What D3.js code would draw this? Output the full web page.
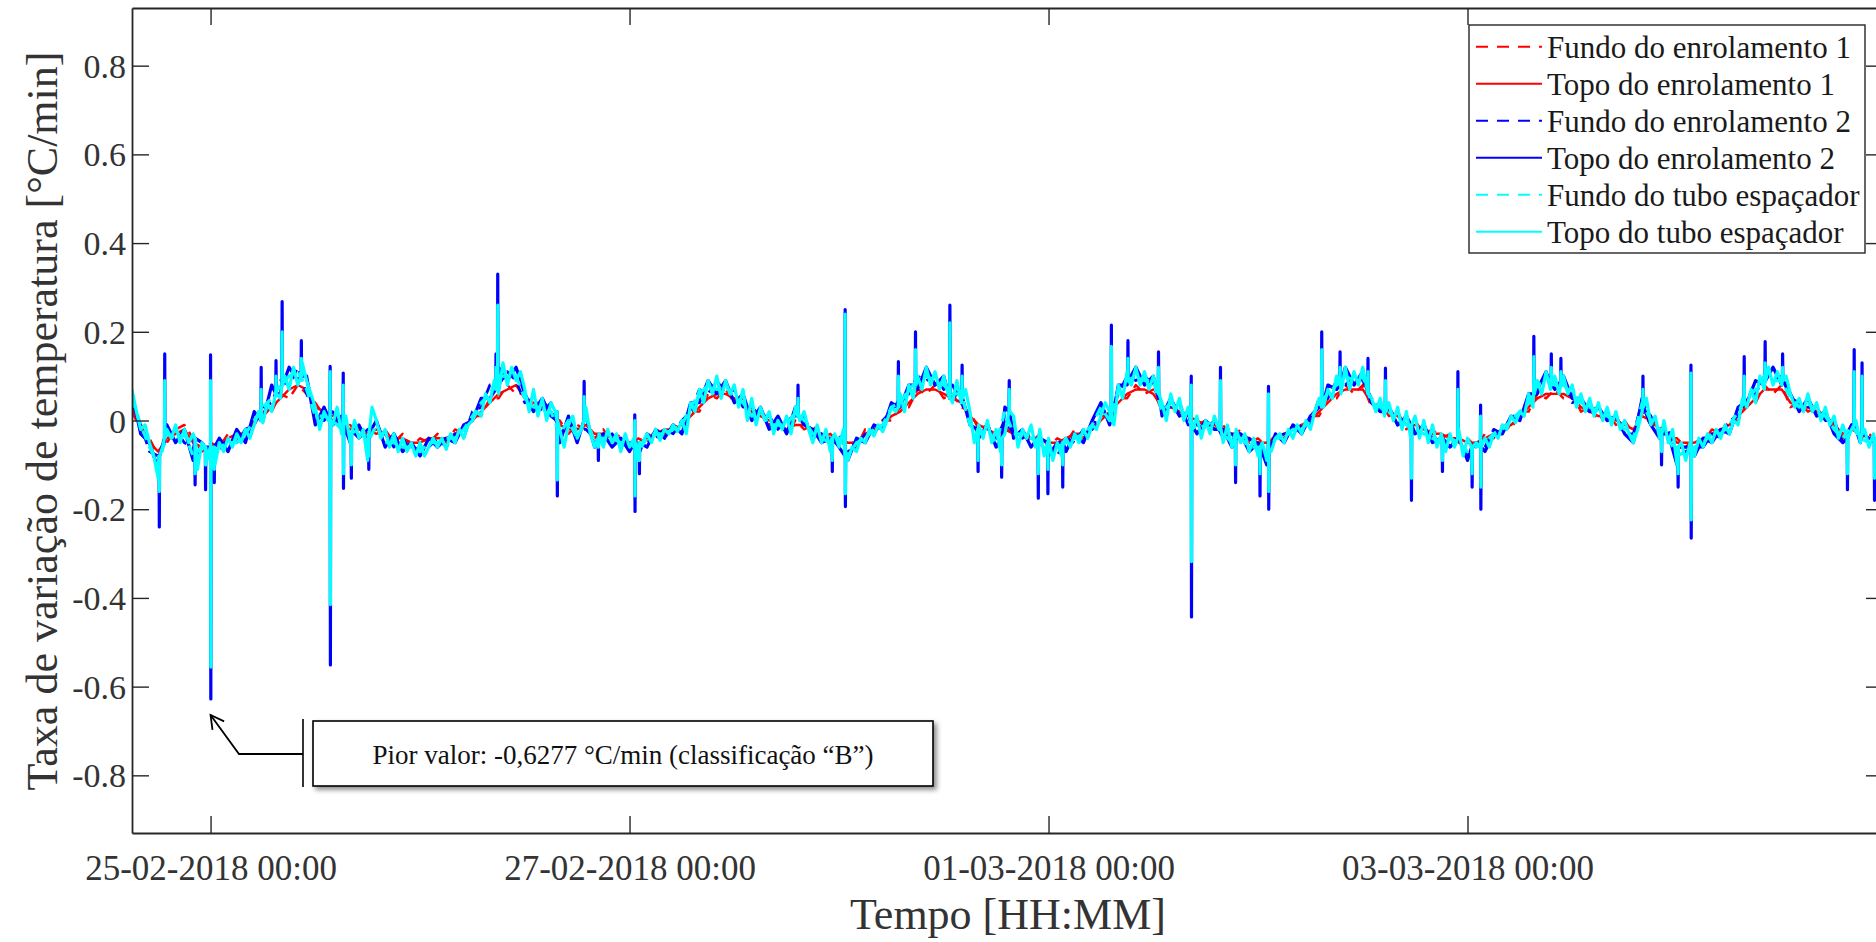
<!DOCTYPE html>
<html><head><meta charset="utf-8">
<script src="https://cdn.jsdelivr.net/npm/d3@7"></script>
<style>
html,body{margin:0;padding:0;background:#fff;overflow:hidden}
svg{display:block}
text{font-family:"Liberation Serif","Times New Roman",serif}
</style></head><body>
<svg id="chart" width="1876" height="942"></svg>
<script>
// ---------------- DATA ----------------
const seriesStart = "2018-02-24T15:00:00Z";   // first sample
const domainEnd   = "2018-03-04T23:36:00Z";   // right edge of the axes

const seriesNames = ["Fundo do enrolamento 1","Topo do enrolamento 1","Fundo do enrolamento 2",
                     "Topo do enrolamento 2","Fundo do tubo espaçador","Topo do tubo espaçador"];

// sampling step of each array (hours)
const stepCyanTopo = 0.5, stepOthers = 1;

// Topo do tubo espaçador (every 30 min)
const cyanTopo = [
0.07,0.02,-0.02,-0.01,-0.05,-0.08,-0.13,-0.06,-0.02,-0.04,
-0.01,-0.05,-0.02,-0.05,-0.03,-0.11,-0.05,-0.09,-0.06,-0.1,
-0.05,-0.07,-0.04,-0.06,-0.03,-0.05,-0.02,-0.04,-0.01,0.02,
-0.005,0.04,0.02,0.09,0.05,0.1,0.07,0.12,0.08,0.13,
0.09,0.06,0.03,-0.02,0.02,0.0,-0.01,0.03,-0.03,0.01,
-0.05,0.0,-0.04,-0.02,-0.09,0.03,0.0,-0.04,-0.02,-0.06,
-0.03,-0.07,-0.04,-0.07,-0.05,-0.08,-0.05,-0.08,-0.06,-0.04,
-0.06,-0.04,-0.065,-0.03,-0.05,-0.02,-0.04,-0.01,0.0,0.02,
0.01,0.06,0.04,0.09,0.06,0.13,0.08,0.12,0.09,0.11,
0.07,0.02,0.07,0.01,0.05,0.0,0.04,0.02,-0.02,-0.06,
-0.01,0.01,-0.04,-0.02,0.03,-0.03,-0.06,-0.03,-0.06,-0.02,
-0.05,-0.03,-0.07,-0.03,-0.06,-0.04,-0.09,-0.05,-0.03,-0.05,
-0.02,-0.045,-0.02,-0.03,-0.01,-0.025,0.0,-0.03,0.04,0.02,
0.07,0.04,0.09,0.06,0.1,0.05,0.09,0.06,0.08,0.03,
0.07,0.0,0.05,-0.01,0.03,0.0,0.02,-0.03,0.0,-0.02,
0.01,-0.03,0.03,0.0,0.02,-0.02,-0.05,-0.01,-0.05,-0.02,
-0.07,-0.03,-0.06,-0.02,-0.09,-0.06,-0.07,-0.04,-0.05,-0.02,
-0.035,-0.01,-0.025,0.0,0.03,0.02,0.06,0.02,0.08,0.05,
0.1,0.07,0.12,0.08,0.11,0.07,0.1,0.06,0.04,0.09,
0.04,0.07,0.02,-0.05,-0.01,-0.04,0.0,-0.05,-0.02,-0.07,
-0.03,0.05,0.01,-0.06,-0.02,-0.04,-0.01,-0.06,-0.02,-0.08,
-0.04,-0.09,-0.05,-0.08,-0.04,-0.06,-0.03,-0.05,-0.02,-0.04,
-0.01,-0.02,0.01,0.04,0.02,-0.01,0.08,0.05,0.11,0.08,
0.12,0.08,0.11,0.07,0.1,0.07,0.04,0.0,0.06,0.02,
0.05,0.0,0.03,-0.02,0.01,-0.04,0.0,-0.03,0.01,-0.02,
-0.05,-0.01,-0.06,-0.02,-0.05,-0.03,-0.07,-0.04,-0.08,-0.05,
-0.09,-0.07,-0.04,-0.03,-0.05,-0.02,-0.04,-0.01,-0.03,0.0,
-0.02,0.02,0.05,0.03,0.07,0.05,0.1,0.06,0.12,0.07,
0.11,0.08,0.12,0.07,0.05,0.02,0.05,0.01,0.04,0.0,
0.03,-0.02,0.02,-0.04,0.01,-0.04,0.0,-0.05,-0.01,-0.06,
-0.03,-0.07,-0.03,-0.06,-0.02,-0.08,-0.04,-0.1,-0.05,-0.06,
-0.04,-0.06,-0.03,-0.04,-0.01,-0.02,0.01,-0.005,0.02,0.01,
0.06,0.03,0.09,0.06,0.11,0.07,0.1,0.06,0.1,0.06,
0.08,0.03,0.06,0.02,0.05,0.01,0.04,0.0,0.03,-0.01,
0.02,-0.02,0.0,-0.03,-0.05,-0.02,0.02,0.05,-0.01,0.01,
-0.04,0.0,-0.05,-0.02,-0.1,-0.05,-0.09,-0.05,-0.08,-0.04,
-0.06,-0.03,-0.05,-0.02,-0.04,-0.01,-0.03,0.0,-0.01,0.05,
0.03,0.07,0.04,0.1,0.07,0.12,0.08,0.11,0.08,0.1,
0.06,0.03,0.05,0.02,0.06,0.02,0.04,0.0,0.03,-0.01,
0.01,-0.04,-0.01,-0.07,-0.02,0.0,-0.05,-0.02,-0.06,-0.03,
-0.05];

// Fundo do tubo espaçador (hourly)
const cyanFundo = [
0.05,-0.01,-0.06,-0.1,-0.03,-0.04,-0.03,-0.08,-0.06,-0.09,
-0.06,-0.05,-0.05,-0.03,0.0,0.03,0.05,0.08,0.1,0.11,
0.07,0.01,0.01,0.0,-0.02,-0.03,-0.02,-0.05,-0.01,-0.05,
-0.05,-0.06,-0.06,-0.07,-0.05,-0.05,-0.04,-0.04,-0.02,0.01,
0.04,0.06,0.1,0.1,0.1,0.05,0.03,0.03,0.02,-0.03,
0.0,-0.04,0.01,-0.05,-0.04,-0.04,-0.05,-0.05,-0.07,-0.04,
-0.03,-0.03,-0.02,-0.01,0.03,0.06,0.08,0.07,0.08,0.05,
0.04,0.01,0.02,-0.01,-0.01,-0.01,0.02,0.0,-0.03,-0.04,
-0.05,-0.04,-0.08,-0.05,-0.04,-0.02,-0.01,0.03,0.04,0.07,
0.09,0.1,0.09,0.08,0.06,0.06,-0.01,-0.03,-0.02,-0.05,
0.02,-0.03,-0.03,-0.04,-0.05,-0.07,-0.06,-0.05,-0.04,-0.03,
-0.01,0.03,0.0,0.07,0.09,0.1,0.09,0.09,0.02,0.04,
0.03,0.0,-0.02,-0.01,0.0,-0.03,-0.05,-0.04,-0.06,-0.06,
-0.08,-0.04,-0.04,-0.02,-0.02,0.0,0.04,0.06,0.08,0.1,
0.09,0.1,0.04,0.03,0.02,0.0,-0.01,-0.02,-0.03,-0.04,
-0.05,-0.04,-0.05,-0.07,-0.06,-0.05,-0.03,-0.02,0.0,0.02,
0.04,0.08,0.09,0.08,0.08,0.06,0.04,0.03,0.02,0.01,
0.0,-0.02,-0.04,0.04,0.0,-0.02,-0.04,-0.08,-0.07,-0.06,
-0.05,-0.03,-0.03,-0.01,0.02,0.05,0.07,0.1,0.09,0.09,
0.05,0.03,0.04,0.02,0.01,-0.02,-0.04,-0.01,-0.04,-0.05,
-0.05];

// Topo do enrolamento 2 (hourly)
const blueTopo = [
0.06,-0.03,-0.05,-0.11,-0.01,-0.05,-0.02,-0.09,-0.05,-0.1,
-0.04,-0.07,-0.02,-0.05,0.02,0.0,0.08,0.06,0.12,0.09,
0.1,-0.01,0.03,-0.01,0.01,-0.05,-0.01,-0.05,0.0,-0.06,
-0.03,-0.07,-0.05,-0.08,-0.04,-0.06,-0.04,-0.05,-0.01,0.0,
0.05,0.05,0.12,0.09,0.12,0.06,0.02,0.05,0.01,-0.05,
0.01,-0.05,0.01,-0.06,-0.03,-0.06,-0.04,-0.07,-0.06,-0.06,
-0.02,-0.04,-0.01,-0.03,0.04,0.04,0.09,0.06,0.09,0.04,
0.06,0.0,0.03,-0.02,0.01,-0.03,0.03,-0.01,-0.02,-0.05,
-0.04,-0.06,-0.09,-0.04,-0.05,-0.01,-0.02,0.04,0.03,0.08,
0.07,0.12,0.08,0.1,0.05,0.07,-0.01,-0.04,-0.01,-0.06,
0.03,-0.04,-0.02,-0.06,-0.04,-0.08,-0.05,-0.07,-0.03,-0.05,
0.0,0.04,-0.01,0.08,0.08,0.12,0.08,0.1,0.01,0.05,
0.01,0.02,-0.03,0.0,-0.02,-0.02,-0.06,-0.03,-0.07,-0.05,
-0.1,-0.03,-0.05,-0.01,-0.03,0.01,0.03,0.08,0.07,0.12,
0.08,0.11,0.04,0.02,0.03,-0.01,0.01,-0.03,-0.01,-0.05,
-0.04,-0.06,-0.04,-0.09,-0.05,-0.07,-0.03,-0.03,0.01,0.0,
0.06,0.07,0.11,0.07,0.1,0.05,0.05,0.02,0.03,0.0,
0.01,-0.03,-0.05,0.05,-0.01,-0.04,-0.03,-0.1,-0.06,-0.08,
-0.04,-0.05,-0.02,-0.03,0.03,0.04,0.09,0.08,0.12,0.08,
0.06,0.02,0.05,0.01,0.02,-0.03,-0.05,-0.01,-0.05,-0.04,
-0.06];

// Fundo do enrolamento 2 (hourly)
const blueFundo = [
0.04,-0.01,-0.07,-0.08,-0.04,-0.02,-0.05,-0.06,-0.08,-0.07,
-0.07,-0.04,-0.05,-0.02,-0.01,0.03,0.04,0.09,0.08,0.12,
0.06,0.02,0.0,0.02,-0.02,-0.02,-0.04,-0.02,-0.03,-0.03,
-0.06,-0.04,-0.07,-0.06,-0.06,-0.04,-0.06,-0.03,-0.04,0.02,
0.03,0.08,0.08,0.11,0.09,0.04,0.05,0.02,0.04,-0.03,
-0.01,-0.02,-0.02,-0.04,-0.05,-0.03,-0.06,-0.04,-0.08,-0.03,
-0.04,-0.02,-0.03,0.0,0.02,0.07,0.06,0.09,0.06,0.07,
0.03,0.03,0.01,0.01,-0.02,0.0,0.01,0.01,-0.04,-0.03,
-0.06,-0.03,-0.07,-0.06,-0.03,-0.03,0.0,0.02,0.05,0.06,
0.1,0.09,0.1,0.07,0.08,0.04,0.0,-0.03,-0.03,-0.04,
0.0,-0.03,-0.04,-0.03,-0.06,-0.06,-0.08,-0.04,-0.05,-0.02,
-0.02,0.03,0.01,0.06,0.1,0.09,0.1,0.08,0.03,0.03,
0.04,-0.01,-0.01,-0.02,0.0,-0.04,-0.03,-0.05,-0.04,-0.07,
-0.07,-0.04,-0.03,-0.03,-0.01,-0.01,0.05,0.05,0.09,0.08,
0.1,0.09,0.05,0.02,0.03,-0.01,0.0,-0.03,-0.01,-0.04,
-0.04,-0.06,-0.04,-0.08,-0.05,-0.06,-0.02,-0.03,0.01,0.01,
0.05,0.06,0.1,0.08,0.09,0.04,0.05,0.02,0.03,0.0,
0.01,-0.03,-0.03,0.04,0.01,-0.03,-0.02,-0.08,-0.07,-0.06,
-0.06,-0.03,-0.04,0.0,0.01,0.05,0.06,0.1,0.09,0.1,
0.05,0.04,0.03,0.03,0.0,0.0,-0.05,-0.01,-0.04,-0.05,
-0.04];

// Topo do enrolamento 1 (hourly)
const redTopo = [
0.03,-0.01,-0.05,-0.07,-0.04,-0.03,-0.02,-0.05,-0.06,-0.06,
-0.05,-0.04,-0.03,-0.03,0.0,0.01,0.03,0.05,0.07,0.08,
0.07,0.03,0.02,0.0,-0.01,-0.02,-0.02,-0.03,-0.02,-0.03,
-0.04,-0.04,-0.05,-0.05,-0.04,-0.04,-0.04,-0.03,-0.02,0.0,
0.02,0.04,0.06,0.07,0.08,0.05,0.04,0.03,0.02,-0.01,
-0.02,-0.02,-0.01,-0.03,-0.03,-0.04,-0.04,-0.05,-0.05,-0.04,
-0.03,-0.02,-0.02,-0.01,0.01,0.03,0.05,0.06,0.06,0.05,
0.04,0.02,0.01,0.0,-0.01,-0.02,-0.01,-0.01,-0.02,-0.03,
-0.04,-0.04,-0.05,-0.05,-0.03,-0.02,-0.01,0.01,0.02,0.04,
0.06,0.07,0.07,0.06,0.05,0.04,0.01,-0.01,-0.02,-0.03,
-0.02,-0.03,-0.03,-0.04,-0.04,-0.05,-0.05,-0.04,-0.03,-0.03,
-0.02,0.0,0.02,0.04,0.06,0.07,0.07,0.06,0.03,0.03,
0.02,0.01,0.0,-0.01,-0.01,-0.02,-0.03,-0.03,-0.04,-0.05,
-0.05,-0.04,-0.03,-0.02,-0.01,0.0,0.02,0.04,0.06,0.07,
0.07,0.07,0.04,0.03,0.02,0.01,-0.01,-0.01,-0.02,-0.03,
-0.03,-0.04,-0.04,-0.05,-0.05,-0.04,-0.03,-0.02,-0.01,0.01,
0.03,0.05,0.06,0.06,0.06,0.05,0.03,0.02,0.01,0.01,
0.0,-0.01,-0.02,0.01,0.0,-0.02,-0.03,-0.05,-0.05,-0.05,
-0.04,-0.03,-0.02,-0.01,0.01,0.03,0.05,0.07,0.07,0.07,
0.04,0.03,0.03,0.02,0.01,-0.01,-0.03,-0.02,-0.03,-0.04,
-0.04];

// Fundo do enrolamento 1 (hourly)
const redFundo = [
0.02,-0.02,-0.04,-0.08,-0.05,-0.02,-0.01,-0.04,-0.07,-0.05,
-0.06,-0.03,-0.04,-0.02,-0.01,0.02,0.02,0.06,0.05,0.08,
0.06,0.04,0.01,0.01,-0.02,-0.01,-0.04,-0.02,-0.03,-0.02,
-0.05,-0.03,-0.06,-0.04,-0.05,-0.03,-0.05,-0.02,-0.03,0.01,
0.01,0.05,0.05,0.08,0.06,0.06,0.03,0.04,0.01,0.0,
-0.03,-0.01,-0.02,-0.04,-0.02,-0.05,-0.03,-0.06,-0.04,-0.05,
-0.02,-0.03,-0.01,-0.02,0.02,0.02,0.06,0.05,0.07,0.04,
0.05,0.01,0.02,-0.01,0.0,-0.03,0.0,-0.02,-0.01,-0.04,
-0.03,-0.05,-0.04,-0.06,-0.02,-0.03,0.0,0.0,0.03,0.03,
0.07,0.06,0.08,0.05,0.06,0.03,0.02,-0.02,-0.01,-0.04,
-0.01,-0.04,-0.02,-0.05,-0.03,-0.06,-0.04,-0.05,-0.02,-0.04,
-0.01,0.01,0.01,0.05,0.05,0.08,0.06,0.07,0.02,0.04,
0.01,0.02,-0.01,0.0,-0.02,-0.01,-0.04,-0.02,-0.05,-0.04,
-0.06,-0.03,-0.04,-0.01,-0.02,0.01,0.01,0.05,0.05,0.08,
0.06,0.08,0.03,0.04,0.01,0.02,-0.02,0.0,-0.03,-0.02,
-0.04,-0.03,-0.05,-0.04,-0.06,-0.03,-0.04,-0.01,-0.02,0.02,
0.02,0.06,0.05,0.07,0.05,0.06,0.02,0.03,0.0,0.02,
-0.01,0.0,-0.03,0.02,-0.01,-0.01,-0.04,-0.04,-0.06,-0.04,
-0.05,-0.02,-0.03,0.0,0.0,0.04,0.04,0.08,0.06,0.08,
0.03,0.04,0.02,0.03,0.0,0.0,-0.04,-0.01,-0.04,-0.03,
-0.05];

// short transients (hours after seriesStart): level before/after, first extreme, second extreme
const spikeTimes = [3.1,3.75,7.2,8.4,9.0,9.4,14.8,16.5,17.2,19.4,22.7,24.2,25.1,27.1,41.7,41.9,48.7,51.8,53.4,57.6,
  58.1,76.3,80.2,81.7,87.8,89.76,93.7,95.1,96.9,99.6,100.5,103.8,104.9,106.6,112.2,114.1,117.6,121.35,124.7,126.4,
  129.2,130.2,136.3,138.4,141.6,143.6,146.55,150.1,151.9,153.5,154.5,160.6,162.6,163.7,173.1,175.2,177.1,178.6,184.7,187.1,
  189.1,196.5,197.3,198.2,199.6];
const cyanSpikeHigh = [-0.08,0.09,-0.04,-0.06,0.09,-0.06,0.07,0.1,0.2,0.14,0.11,0.08,-0.03,-0.03,0.12,0.26,0.02,0.054,-0.04,0.0,
  -0.05,0.05,-0.04,0.24,0.1,0.16,0.22,0.1,-0.02,-0.04,0.07,-0.04,-0.05,-0.05,0.167,0.14,0.12,0.08,0.09,-0.03,
  -0.06,0.06,0.16,0.12,0.11,0.09,-0.01,-0.04,0.07,-0.06,0.01,0.144,0.12,0.11,0.07,-0.03,-0.06,0.107,0.1,0.13,
  0.12,-0.04,0.11,0.1,-0.04];
const cyanSpikeLow = [-0.16,-0.04,-0.12,-0.1,-0.556,-0.11,0.0,0.06,0.08,0.1,-0.415,-0.12,-0.1,-0.08,0.07,0.08,-0.134,0.0,-0.06,-0.17,
  -0.09,0.01,-0.09,-0.165,0.03,0.08,0.05,0.05,-0.09,-0.1,0.02,-0.12,-0.11,-0.1,0.0,0.09,0.06,-0.318,-0.02,-0.1,
  -0.12,-0.16,0.03,0.08,0.06,0.02,-0.13,-0.09,-0.04,-0.12,-0.15,0.06,0.08,0.08,0.03,-0.07,-0.12,-0.224,0.04,0.09,
  0.09,-0.12,-0.01,-0.03,-0.13];
const blueSpikeHigh = [-0.08,0.15,-0.04,-0.06,0.148,-0.06,0.12,0.135,0.268,0.18,0.122,0.107,-0.03,-0.03,0.15,0.33,0.02,0.088,-0.04,0.013,
  -0.05,0.08,-0.04,0.25,0.133,0.2,0.26,0.125,-0.02,-0.04,0.09,-0.04,-0.05,-0.05,0.215,0.18,0.155,0.1,0.12,-0.03,
  -0.06,0.077,0.2,0.155,0.14,0.118,-0.01,-0.04,0.11,-0.06,0.035,0.19,0.15,0.14,0.1,-0.03,-0.06,0.125,0.144,0.178,
  0.15,-0.04,0.16,0.13,-0.04];
const blueSpikeLow = [-0.24,-0.04,-0.145,-0.156,-0.6277,-0.14,0.0,0.06,0.08,0.1,-0.551,-0.153,-0.13,-0.11,0.07,0.08,-0.17,0.0,-0.09,-0.205,
  -0.12,0.01,-0.115,-0.194,0.03,0.08,0.05,0.05,-0.115,-0.128,0.02,-0.175,-0.165,-0.15,0.0,0.09,0.06,-0.443,-0.02,-0.14,
  -0.17,-0.2,0.03,0.08,0.06,0.02,-0.18,-0.115,-0.04,-0.15,-0.2,0.06,0.08,0.08,0.03,-0.1,-0.15,-0.265,0.04,0.09,
  0.09,-0.156,-0.01,-0.03,-0.18];
const spikeBase = [-0.08,-0.04,-0.04,-0.06,-0.06,-0.06,0.0,0.06,0.08,0.1,0.0,-0.01,-0.03,-0.03,0.07,0.08,0.0,0.0,-0.04,-0.05,
  -0.05,0.01,-0.04,-0.08,0.03,0.08,0.05,0.05,-0.02,-0.04,0.02,-0.04,-0.05,-0.05,0.0,0.09,0.06,-0.01,-0.02,-0.03,
  -0.06,-0.07,0.03,0.08,0.06,0.02,-0.01,-0.04,-0.04,-0.06,-0.06,0.06,0.08,0.08,0.03,-0.03,-0.06,-0.06,0.04,0.09,
  0.09,-0.04,-0.01,-0.03,-0.04];

// worst value annotation
const worstTime = "2018-02-25T00:00:00Z";
const worstValue = -0.6277;
const worstText = "Pior valor: -0,6277 °C/min (classificação “B”)";

// axes
const yTickValues = [-0.8,-0.6,-0.4,-0.2,0,0.2,0.4,0.6,0.8];
const yTickLabels = ["-0.8","-0.6","-0.4","-0.2","0","0.2","0.4","0.6","0.8"];
const xTickDates  = ["2018-02-25T00:00:00Z","2018-02-27T00:00:00Z","2018-03-01T00:00:00Z","2018-03-03T00:00:00Z"];
const xTickLabels = ["25-02-2018 00:00","27-02-2018 00:00","01-03-2018 00:00","03-03-2018 00:00"];
const yTitle = "Taxa de variação de temperatura [°C/min]";
const xTitle = "Tempo [HH:MM]";

// ---------------- DRAW ----------------
const M = {left:132, right:1883, top:8, bottom:833};
const HOUR = 3600e3;
const t0 = new Date(seriesStart).getTime();
const x = d3.scaleUtc().domain([new Date(seriesStart), new Date(domainEnd)]).range([M.left, M.right]);
const y = d3.scaleLinear().domain([-0.93, 0.93]).range([M.bottom, M.top]);
const axisColor = "#262626";

const svg = d3.select("#chart");
svg.append("rect").attr("width",1876).attr("height",942).attr("fill","#fff");
const defs = svg.append("defs");
defs.append("clipPath").attr("id","clip").append("rect")
  .attr("x",M.left).attr("y",M.top).attr("width",M.right-M.left).attr("height",M.bottom-M.top);
const f = defs.append("filter").attr("id","shadow").attr("x","-10%").attr("y","-30%").attr("width","130%").attr("height","180%");
f.append("feDropShadow").attr("dx",3).attr("dy",3).attr("stdDeviation",2.5).attr("flood-color","#000").attr("flood-opacity",0.45);

function build(vals, step, hi, lo){
  const pts = vals.map((v,i)=>({t:i*step, v}));
  if(hi){
    spikeTimes.forEach((t,k)=>{
      pts.push({t:t-0.03, v:spikeBase[k]});
      pts.push({t:t, v:hi[k]});
      pts.push({t:t+0.03, v:lo[k]});
      pts.push({t:t+0.06, v:spikeBase[k]});
    });
    pts.sort((a,b)=>a.t-b.t);
  }
  return pts;
}
const line = d3.line().x(d=>x(new Date(t0 + d.t*HOUR))).y(d=>y(d.v));

const series = [
  {name:seriesNames[0], pts:build(redFundo, stepOthers), color:"#ff0000", dash:"10,7", w:2.4},
  {name:seriesNames[1], pts:build(redTopo, stepOthers), color:"#ff0000", dash:null, w:2.4},
  {name:seriesNames[2], pts:build(blueFundo, stepOthers), color:"#0000ff", dash:"10,7", w:2.8},
  {name:seriesNames[3], pts:build(blueTopo, stepOthers, blueSpikeHigh, blueSpikeLow), color:"#0000ff", dash:null, w:3.2},
  {name:seriesNames[4], pts:build(cyanFundo, stepOthers), color:"#00ffff", dash:"10,7", w:3.2},
  {name:seriesNames[5], pts:build(cyanTopo, stepCyanTopo, cyanSpikeHigh, cyanSpikeLow), color:"#00ffff", dash:null, w:3.2}
];

const gData = svg.append("g").attr("clip-path","url(#clip)");
series.forEach(s=>{
  gData.append("path").attr("d", line(s.pts)).attr("fill","none")
    .attr("stroke", s.color).attr("stroke-width", s.w)
    .attr("stroke-linejoin","round").attr("stroke-linecap","butt")
    .attr("stroke-dasharray", s.dash);
});

// axes
const xTicks = xTickDates.map(d=>new Date(d));
const gx = svg.append("g").attr("transform",`translate(0,${M.bottom})`)
  .call(d3.axisBottom(x).tickValues(xTicks).tickSize(-17).tickSizeOuter(0).tickPadding(22)
        .tickFormat((d,i)=>xTickLabels[i]));
const gxt = svg.append("g").attr("transform",`translate(0,${M.top})`)
  .call(d3.axisTop(x).tickValues(xTicks).tickSize(-17).tickSizeOuter(0).tickFormat(""));
const gy = svg.append("g").attr("transform",`translate(${M.left},0)`)
  .call(d3.axisLeft(y).tickValues(yTickValues).tickSize(-17).tickSizeOuter(0).tickPadding(6)
        .tickFormat((d,i)=>yTickLabels[i]));
const gyr = svg.append("g").attr("transform",`translate(${M.right},0)`)
  .call(d3.axisRight(y).tickValues(yTickValues).tickSize(-17).tickSizeOuter(0).tickFormat(""));
[gx,gxt,gy,gyr].forEach(g=>{
  g.select(".domain").attr("stroke",axisColor).attr("stroke-width",1.8);
  g.selectAll(".tick line").attr("stroke",axisColor).attr("stroke-width",1.4);
  g.selectAll("text").attr("fill","#333").attr("font-family",'"Liberation Serif",serif');
});
gx.selectAll("text").attr("font-size",35).attr("dy",null).attr("y",47);
gy.selectAll("text").attr("font-size",34).attr("dy","0.34em");

// titles
svg.append("text").attr("x",1008).attr("y",929).attr("text-anchor","middle")
  .attr("font-size",44).attr("fill","#333").text(xTitle);
svg.append("text").attr("transform","translate(57,421) rotate(-90)").attr("text-anchor","middle")
  .attr("font-size",44).attr("fill","#333").text(yTitle);

// legend
const lg = svg.append("g");
lg.append("rect").attr("x",1469).attr("y",25).attr("width",396).attr("height",228)
  .attr("fill","#fff").attr("stroke",axisColor).attr("stroke-width",1.4);
series.forEach((s,i)=>{
  const yy = 46.7 + i*37;
  lg.append("line").attr("x1",1476).attr("x2",1542).attr("y1",yy).attr("y2",yy)
    .attr("stroke",s.color).attr("stroke-width",2).attr("stroke-dasharray", s.dash ? "12,9" : null);
  lg.append("text").attr("x",1547).attr("y",yy+11).attr("font-size",31).attr("fill","#1a1a1a").text(s.name);
});

// annotation
const tipX = x(new Date(worstTime)), tipY = y(worstValue) + 16;
const ann = svg.append("g");
ann.append("rect").attr("x",313).attr("y",721).attr("width",620).attr("height",65)
  .attr("fill","#fff").attr("stroke","#000").attr("stroke-width",1.6).attr("filter","url(#shadow)");
ann.append("text").attr("x",623).attr("y",764).attr("text-anchor","middle").attr("font-size",27)
  .attr("fill","#111").text(worstText);
ann.append("line").attr("x1",303).attr("x2",303).attr("y1",719).attr("y2",787).attr("stroke","#000").attr("stroke-width",1.6);
const elbowX = 239, elbowY = 754;
ann.append("polyline").attr("points",`303,${elbowY} ${elbowX},${elbowY} ${tipX},${tipY}`)
  .attr("fill","none").attr("stroke","#000").attr("stroke-width",1.8);
const ang = Math.atan2(elbowY - tipY, elbowX - tipX), L = 15, spread = 0.5;
ann.append("polyline").attr("points",
  `${tipX + L*Math.cos(ang-spread)},${tipY + L*Math.sin(ang-spread)} ${tipX},${tipY} ${tipX + L*Math.cos(ang+spread)},${tipY + L*Math.sin(ang+spread)}`)
  .attr("fill","none").attr("stroke","#000").attr("stroke-width",1.8);
</script>
</body></html>
